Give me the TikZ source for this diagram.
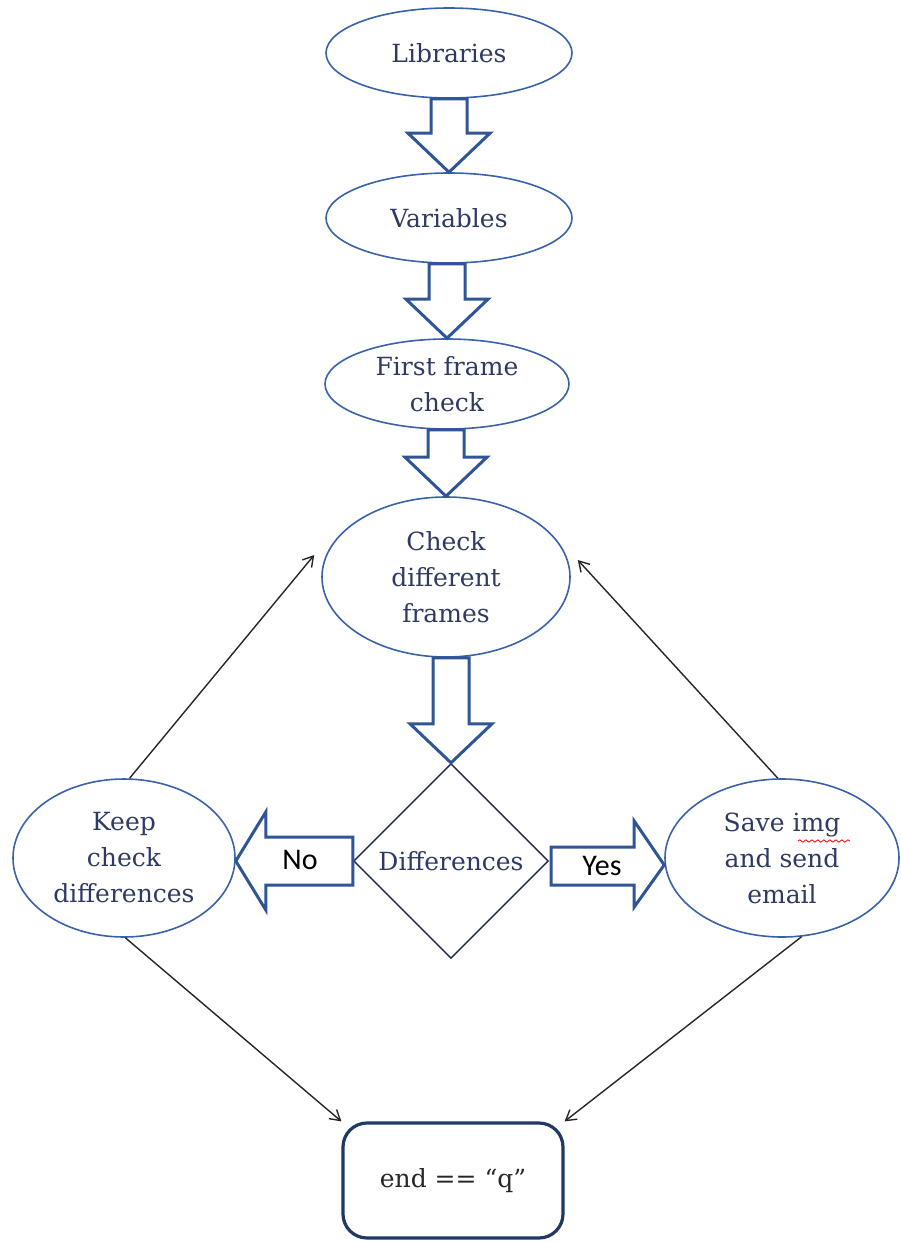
\documentclass[tikz,border=0pt]{standalone}
\usepackage{fontspec}
\setmainfont{DejaVu Serif}
\newfontfamily\calib{Carlito}
\usetikzlibrary{shapes.geometric,arrows.meta,calc,decorations.pathmorphing}
\definecolor{ellblue}{HTML}{3A62A8}
\definecolor{arrblue}{HTML}{2F5597}
\definecolor{txtnavy}{HTML}{2E3A63}
\definecolor{dianavy}{HTML}{1F2A44}
\definecolor{boxnavy}{HTML}{1F3864}
\tikzset{
  ell/.style={ellipse, draw=ellblue, line width=0.8pt, fill=white, inner sep=0pt,
    align=center, text=txtnavy, font=\fontsize{12.5}{18}\selectfont},
  dia/.style={diamond, draw=dianavy, line width=0.7pt, inner sep=0pt, aspect=1,
    minimum width=97.5pt, minimum height=97.5pt, text=txtnavy, font=\fontsize{12.5}{18}\selectfont},
  endbox/.style={rectangle, rounded corners=12pt, draw=boxnavy, line width=1.6pt,
    minimum width=110pt, minimum height=57.5pt, font=\fontsize{12.5}{18}\selectfont, text=black!85},
  barrow/.style={draw=arrblue, line width=1.5pt, fill=white, line join=miter},
  thinarrow/.style={draw=black!85, line width=0.7pt, -{Straight Barb[length=5pt,width=6pt]}},
  yesno/.style={font=\calib\fontsize{15}{18}\selectfont, text=black}
}
\newcommand\vblock[2]{%
  \draw[barrow] let \p1=(#1.south), \p2=(#2.north) in
    (\x2-9pt,\y1) -- (\x2-9pt,\y2+19.5pt) -- (\x2-20.5pt,\y2+19.5pt) -- (\x2,\y2)
    -- (\x2+20.5pt,\y2+19.5pt) -- (\x2+9pt,\y2+19.5pt) -- (\x2+9pt,\y1) -- cycle;}
\begin{document}
\begin{tikzpicture}[x=0.5pt,y=-0.5pt]
\useasboundingbox (0,0) rectangle (900,1242);
% nodes
\node[ell, minimum width=123pt, minimum height=45pt] (lib) at (449,53) {Libraries};
\node[ell, minimum width=123pt, minimum height=45pt] (var) at (449,218) {Variables};
\node[ell, minimum width=122pt, minimum height=45pt] (ffc) at (447,384) {First frame\\check};
\node[ell, minimum width=124pt, minimum height=80pt] (cdf) at (446,577) {Check\\different\\frames};
\node[dia] (dif) at (451,861) {Differences};
\node[ell, minimum width=111pt, minimum height=79pt] (keep) at (124,858) {Keep\\check\\differences};
\node[ell, minimum width=117pt, minimum height=79pt] (save) at (782,858) {Save img\\and send\\email};
\node[endbox] (end) at (453,1180.5) {end == “q”};
% vertical block arrows
\vblock{lib}{var}
\vblock{var}{ffc}
\vblock{ffc}{cdf}
\vblock{cdf}{dif}
% No arrow (left)
\draw[barrow] let \p1=(dif.west), \p2=(keep.east) in
  (\x1,\y1+12pt) -- (\x2+15pt,\y1+12pt) -- (\x2+15pt,\y1+24.5pt) -- (\x2,\y1)
  -- (\x2+15pt,\y1-24.5pt) -- (\x2+15pt,\y1-12pt) -- (\x1,\y1-12pt) -- cycle;
\node[yesno] (no) at (300,860) {No};
% Yes arrow (right)
\draw[barrow] let \p1=(dif.east), \p2=(save.west) in
  (\x1+1pt,\y1+7pt) -- (\x2-15pt,\y1+7pt) -- (\x2-15pt,\y1+20pt) -- (\x2,\y1-2pt)
  -- (\x2-15pt,\y1-23pt) -- (\x2-15pt,\y1-12pt) -- (\x1+1pt,\y1-12pt) -- cycle;
\node[yesno] (yes) at (602,866) {Yes};
% thin arrows
\draw[thinarrow] (keep.86) -- ([shift={(-3.5pt,11pt)}]cdf.west);
\draw[thinarrow] (save.93) -- ([shift={(3.5pt,8.5pt)}]cdf.east);
\draw[thinarrow] (keep.-89) -- (end.north west);
\draw[thinarrow] (save.-76) -- (end.north east);
% spell-check squiggle
\draw[red, line width=0.4pt, decorate, decoration={snake, amplitude=0.6pt, segment length=3pt}]
  (798,841) -- (850,841);
\end{tikzpicture}
\end{document}
